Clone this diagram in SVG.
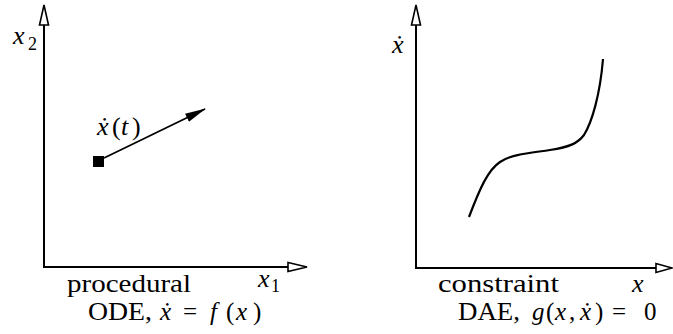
<svg xmlns="http://www.w3.org/2000/svg" width="673" height="334" viewBox="0 0 673 334">
<style>
.ax{stroke:#000;stroke-width:2;fill:none}
.ah{fill:#fff;stroke:#000;stroke-width:1.6;stroke-linejoin:miter}
.t{font-family:"Liberation Serif","DejaVu Serif",serif;font-size:26px;fill:#000}
.b{font-size:25px}
.i{font-style:italic}
.s{font-style:normal;font-size:18px}
</style>
<defs>
<marker id="fa" markerUnits="userSpaceOnUse" markerWidth="22" markerHeight="12" viewBox="0 0 22 12" refX="20" refY="6" orient="auto">
<path d="M0,1.5 L21,6 L0,10.5 z" fill="#000"/>
</marker>
</defs>
<g id="ode-panel">
<g id="ode-axes">
<path class="ax" d="M44,24 V267 H289"/>
<polygon class="ah" points="44,5 39.5,25 48.5,25"/>
<polygon class="ah" points="307,267 288,262.5 288,271.5"/>
</g>
<text class="t i" x="13" y="44">x<tspan class="s" x="28" y="50">2</tspan></text>
<text class="t i" x="258" y="287">x<tspan class="s" x="271" y="292">1</tspan></text>
<g id="state">
<rect x="93" y="156" width="11" height="11" fill="#000"/>
<path d="M104,158 L205,109" stroke="#000" stroke-width="1.8" fill="none" marker-end="url(#fa)"/>
<text class="t" y="135"><tspan class="i" x="97">ẋ</tspan><tspan x="112">(</tspan><tspan class="i" x="121">t</tspan><tspan x="132">)</tspan></text>
</g>
<text class="t b" x="67" y="292" textLength="124" lengthAdjust="spacingAndGlyphs">procedural</text>
<text class="t b" y="320"><tspan x="88" textLength="64" lengthAdjust="spacingAndGlyphs">ODE,</tspan><tspan class="i" x="160">ẋ</tspan><tspan x="183">=</tspan><tspan class="i" x="210">f</tspan><tspan x="226">(</tspan><tspan class="i" x="236">x</tspan><tspan x="253">)</tspan></text>
</g>
<g id="dae-panel">
<g id="dae-axes">
<path class="ax" d="M416,24 V268 H656"/>
<polygon class="ah" points="416,5 411.5,25 420.5,25"/>
<polygon class="ah" points="672,268 656,263.5 656,272.5"/>
</g>
<text class="t i" x="392" y="53">ẋ</text>
<text class="t i" x="632" y="292">x</text>
<path id="constraint-curve" d="M469,217 C480,188 488,170 500,162 C512,154 530,153 550,150 C570,147 578,143 584,135 C592,122 600,95 603,59" stroke="#000" stroke-width="2.2" fill="none"/>
<text class="t b" x="438" y="292" textLength="121" lengthAdjust="spacingAndGlyphs">constraint</text>
<text class="t b" y="320"><tspan x="458" textLength="62" lengthAdjust="spacingAndGlyphs">DAE,</tspan><tspan class="i" x="532">g</tspan><tspan x="546">(</tspan><tspan class="i" x="555">x</tspan><tspan x="569">,</tspan><tspan class="i" x="580">ẋ</tspan><tspan x="595">)</tspan><tspan x="612">=</tspan><tspan x="644">0</tspan></text>
</g>
</svg>
